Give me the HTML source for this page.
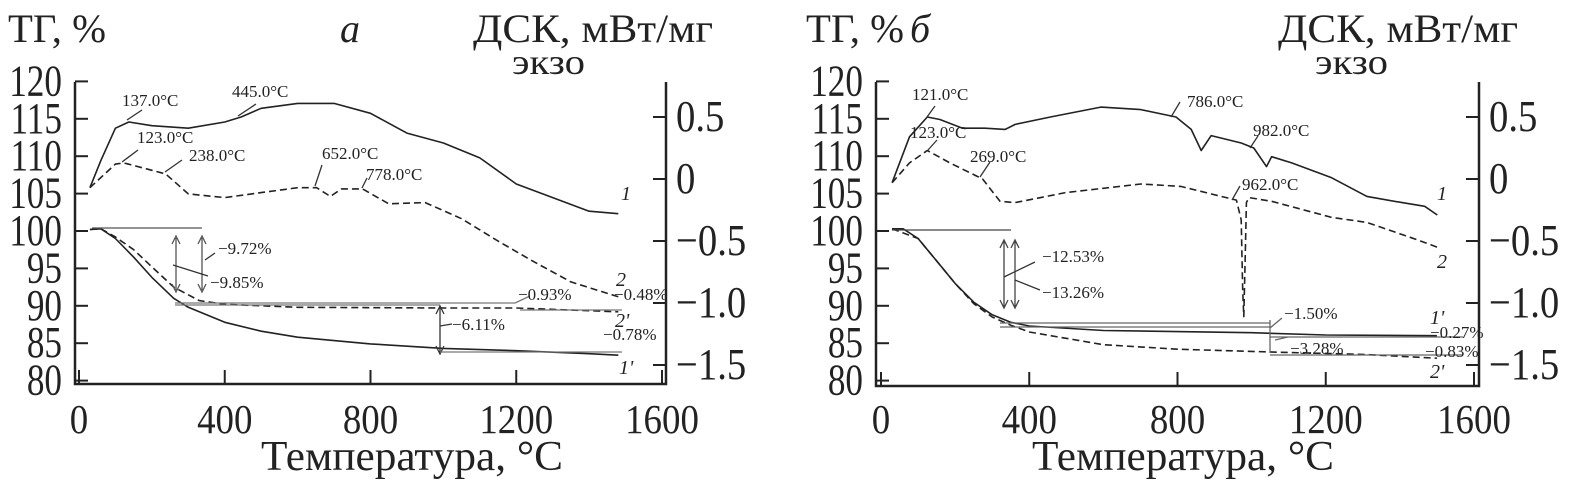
<!DOCTYPE html>
<html><head><meta charset="utf-8"><style>
html,body{margin:0;padding:0;background:#fff;}
svg{display:block;}
text{font-family:"Liberation Serif",serif;fill:#222;}
</style></head><body>
<svg id="c" width="1569" height="486" viewBox="0 0 1569 486" xmlns="http://www.w3.org/2000/svg"></svg>
<script>
// ---- data: panel a ----
const aDsc1T = [30,60,100,137,200,300,400,445,500,600,700,800,900,1000,1100,1200,1300,1400,1480];
const aDsc1V = [-0.07,0.15,0.41,0.46,0.43,0.41,0.46,0.50,0.57,0.61,0.61,0.53,0.37,0.29,0.17,-0.04,-0.15,-0.26,-0.28];
const aDsc2T = [30,100,123,200,238,300,400,500,600,652,690,720,778,850,950,1050,1150,1250,1350,1480];
const aDsc2V = [-0.07,0.12,0.13,0.07,0.04,-0.12,-0.15,-0.11,-0.07,-0.07,-0.14,-0.08,-0.08,-0.20,-0.19,-0.32,-0.5,-0.67,-0.83,-0.95];
const aTg1T = [30,60,100,150,200,260,300,400,500,600,800,1000,1200,1400,1480];
const aTg1V = [100.2,100.3,99,96.5,93.8,91,89.8,87.8,86.6,85.8,84.9,84.3,84,83.6,83.4];
const aTg2T = [30,60,100,150,200,260,330,400,600,1000,1200,1480];
const aTg2V = [100.2,100.3,99.2,97.5,95.2,92.5,90.7,90.2,89.8,89.7,89.7,89.2];
// ---- data: panel b ----
const bDsc1T = [30,77,125,159,220,280,335,362,457,593,701,796,837,864,891,972,1006,1040,1054,1108,1216,1311,1406,1467,1501];
const bDsc1V = [-0.03,0.34,0.50,0.48,0.41,0.41,0.40,0.44,0.50,0.58,0.56,0.50,0.40,0.23,0.35,0.29,0.25,0.10,0.18,0.13,0.01,-0.14,-0.19,-0.22,-0.29];
const bDsc2T = [30,77,125,186,274,321,362,498,701,809,918,959,972,976,979,983,986,993,1054,1216,1311,1447,1501];
const bDsc2V = [-0.03,0.13,0.23,0.13,0.0,-0.18,-0.19,-0.11,-0.04,-0.06,-0.14,-0.17,-0.33,-0.9,-1.11,-0.6,-0.19,-0.15,-0.18,-0.31,-0.35,-0.49,-0.55];
const bTg1T = [30,60,100,150,200,250,300,350,400,600,1000,1200,1500];
const bTg1V = [100.3,100.3,99,96,93,90.5,88.8,87.8,87.3,86.7,86.4,86.1,86.0];
const bTg2T = [30,100,150,200,250,300,350,400,600,800,1070,1300,1500];
const bTg2V = [100.3,99,96,93,90.3,88.5,87.4,86.5,84.8,84.2,83.8,83.5,83.0];
const tempTicks = [0,400,800,1200,1600];
const tgTicks = [80,85,90,95,100,105,110,115,120];
const dscTicks = [0.5,0,-0.5,-1.0,-1.5];
const dscTickLabels = ["0.5","0","\u22120.5","\u22121.0","\u22121.5"];

const svg = document.getElementById('c');
const NS = 'http://www.w3.org/2000/svg';
function mk(tag, attrs, parent){const e=document.createElementNS(NS,tag);for(const k in attrs)e.setAttribute(k,attrs[k]);(parent||svg).appendChild(e);return e;}

function panel(p){
  const g = mk('g',{});
  
  
  const X = t => p.x0 + (t/1600)*(p.x1-p.x0);
  const Y = v => 231 + (100-v)*7.48;
  const D = v => 179 - v*124;
  const ax = mk('path',{d:`M${p.ax} 82 V${p.by} H${p.rx} V82`,fill:'none',stroke:'#222','stroke-width':2.5},g);
  
  
  tempTicks.forEach(t=>{
    mk('line',{x1:X(t),x2:X(t),y1:p.by,y2:p.by-14,stroke:'#222','stroke-width':2},g);
    const tx = mk('text',{transform:`translate(${X(t)},433) scale(0.9,1)`,'font-size':41,'text-anchor':'middle'},g);
    tx.textContent=t;
    
    
  });
  tgTicks.forEach(v=>{
    mk('line',{x1:p.ax,x2:p.ax+13,y1:Y(v),y2:Y(v),stroke:'#222','stroke-width':2},g);
    const tx = mk('text',{transform:`translate(${p.ax-13},${Y(v)+14}) scale(0.8,1)`,'font-size':44,'text-anchor':'end'},g);
    tx.textContent=v;
    
    
  });
  dscTicks.forEach((v,i)=>{
    mk('line',{x1:p.rx-13,x2:p.rx,y1:D(v),y2:D(v),stroke:'#222','stroke-width':2},g);
    const tx = mk('text',{transform:`translate(${p.rx+10},${D(v)+14}) scale(0.88,1)`,'font-size':44},g);
    tx.textContent=dscTickLabels[i];
    
    
  });
  function line(T,V,f,dash,name){
    const d = T.map((t,i)=>(i?'L':'M')+X(t).toFixed(1)+' '+f(V[i]).toFixed(1)).join(' ');
    const e = mk('path',{d,fill:'none',stroke:'#222','stroke-width':1.6,'stroke-linejoin':'round','stroke-dasharray':dash||'none'},g);
    
    
  }
  line(p.d1T,p.d1V,D,null,'dsc-curve-1');
  line(p.d2T,p.d2V,D,'7 4','dsc-curve-2');
  line(p.t1T,p.t1V,Y,null,'tg-curve-1prime');
  line(p.t2T,p.t2V,Y,'7 4','tg-curve-2prime');
  p.ann.forEach(a=>{
    if(a.l) mk('path',{d:a.l,fill:'none',stroke:a.c||'#333','stroke-width':a.w||1.3},g);
    if(a.t){const tx=mk('text',{x:a.x,y:a.y,'font-size':a.s||17,'font-style':a.i?'italic':'normal'},g);tx.textContent=a.t;
      
      }
  });
  const t1=mk('text',{x:p.tgx,y:42,'font-size':40,textLength:98,lengthAdjust:'spacingAndGlyphs'},g);t1.textContent='ТГ, %';
  
  const t2=mk('text',{x:p.lx,y:42,'font-size':40,'font-style':'italic'},g);t2.textContent=p.letter;
  
  const t3=mk('text',{x:p.dx,y:42,'font-size':40,textLength:240,lengthAdjust:'spacingAndGlyphs'},g);t3.textContent='ДСК, мВт/мг';
  
  const t4=mk('text',{x:p.ex,y:74,'font-size':36,textLength:73,lengthAdjust:'spacingAndGlyphs'},g);t4.textContent='экзо';
  
  const t5=mk('text',{x:p.xt,y:470,'font-size':42,textLength:302,lengthAdjust:'spacingAndGlyphs'},g);t5.textContent='Температура, °С';
  
}

panel({name:'panel-a',x0:79,x1:662,ax:75,rx:666,by:384,
  d1T:aDsc1T,d1V:aDsc1V,d2T:aDsc2T,d2V:aDsc2V,t1T:aTg1T,t1V:aTg1V,t2T:aTg2T,t2V:aTg2V,
  tgx:8,lx:340,dx:473,ex:512,xt:261,letter:'а',
  ann:[
    {l:'M127 120 L142 110',t:'137.0°C',x:122,y:106},
    {l:'M238 116 L256 104',t:'445.0°C',x:232,y:97},
    {l:'M122 162 L138 150',t:'123.0°C',x:137,y:143},
    {l:'M165 172 L182 160',t:'238.0°C',x:189,y:161},
    {l:'M315 186 L322 165',t:'652.0°C',x:322,y:159},
    {l:'M362 188 L367 178',t:'778.0°C',x:366,y:180},
    {l:'M92 228 H202 M176 238 V290 M202 238 V290 M172 244 L176 236 L180 244 M172 284 L176 292 L180 284 M198 244 L202 236 L206 244 M198 284 L202 292 L206 284',c:'#555'},
    {l:'M173 265 L208 276 M205 260 L215 253',t:'−9.72%',x:218,y:254},{t:'−9.85%',x:210,y:288},
    {l:'M175 303 H515 M175 305 H440 M515 303 L530 296',c:'#777',t:'−0.93%',x:518,y:300},
    {l:'M440 306 V354 M436 314 L440 306 L444 314 M436 346 L440 354 L444 346 M440 326 L452 324',t:'−6.11%',x:452,y:330},
    {l:'M440 352 H622 M520 310 H622',c:'#777'},
    {t:'−0.48%',x:614,y:300},{t:'2',x:616,y:286,i:1,s:20},{t:"2'",x:615,y:327,i:1,s:20},{t:'−0.78%',x:603,y:340},
    {t:"1'",x:619,y:374,i:1,s:20},{t:'1',x:621,y:200,i:1,s:20}
  ]});

panel({name:'panel-b',x0:881,x1:1474,ax:876,rx:1479,by:386,
  d1T:bDsc1T,d1V:bDsc1V,d2T:bDsc2T,d2V:bDsc2V,t1T:bTg1T,t1V:bTg1V,t2T:bTg2T,t2V:bTg2V,
  tgx:806,lx:910,dx:1278,ex:1315,xt:1032,letter:'б',
  ann:[
    {l:'M927 117 L935 106',t:'121.0°C',x:912,y:100},
    {l:'M928 150 L937 140',t:'123.0°C',x:910,y:138},
    {l:'M980 177 L990 162',t:'269.0°C',x:970,y:162},
    {l:'M1171 117 L1180 102',t:'786.0°C',x:1187,y:107},
    {l:'M1250 148 L1258 136',t:'982.0°C',x:1253,y:136},
    {l:'M1232 200 L1240 186',t:'962.0°C',x:1242,y:190},
    {l:'M892 230 H1011 M1004 240 V308 M1015 240 V308 M1000 248 L1004 240 L1008 248 M1000 300 L1004 308 L1008 300 M1011 248 L1015 240 L1019 248 M1011 300 L1015 308 L1019 300',c:'#444'},
    {l:'M1004 277 L1035 262 M1015 280 L1040 290',t:'−12.53%',x:1042,y:262},{t:'−13.26%',x:1042,y:298},
    {l:'M1000 323 H1270 M1000 327 H1270 M1270 320 V353 M1270 337 H1463 M1270 355 H1463 M1270 328 L1282 318 M1275 340 L1288 337',c:'#666'},
    {t:'−1.50%',x:1284,y:319},{t:'−3.28%',x:1290,y:354},
    {t:"1'",x:1430,y:324,i:1,s:20},{t:'−0.27%',x:1430,y:338},{t:'−0.83%',x:1425,y:357},{t:"2'",x:1430,y:378,i:1,s:20},
    {t:'1',x:1437,y:200,i:1,s:20},{t:'2',x:1437,y:268,i:1,s:20}
  ]});
</script>
</body></html>
